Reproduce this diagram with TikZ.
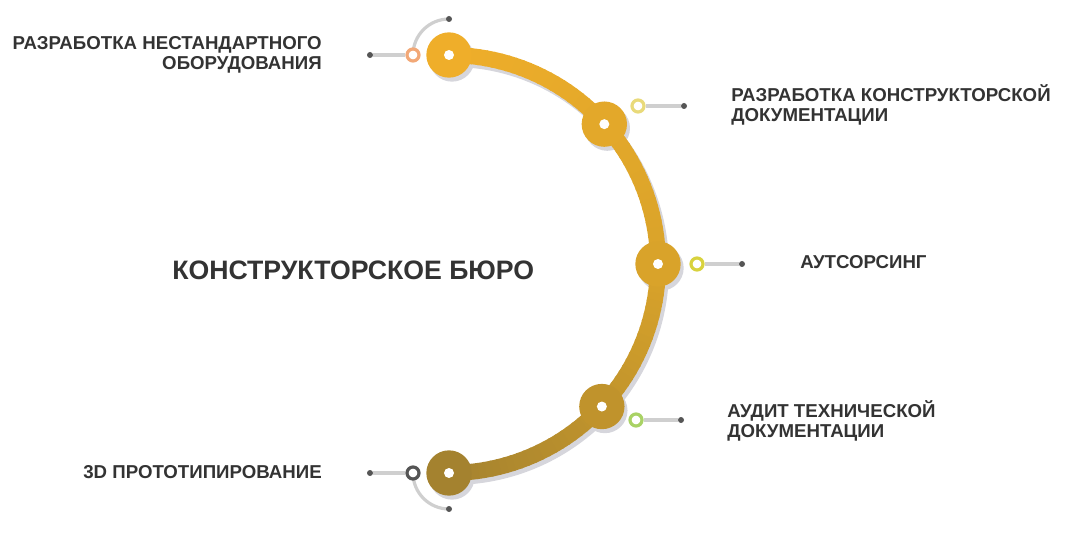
\documentclass[tikz,border=0pt]{standalone}
\usepackage{fontspec}
\setmainfont{Liberation Sans}
\usetikzlibrary{positioning,backgrounds}
\definecolor{KTop}{HTML}{EFAE2A}
\definecolor{KMid}{HTML}{D9A32A}
\definecolor{KBot}{HTML}{A4822F}
\definecolor{KText}{HTML}{333333}
\definecolor{KLine}{HTML}{CFCFCF}
\definecolor{KDot}{HTML}{555555}
\definecolor{KShade}{HTML}{D6D6DC}
\definecolor{RA}{HTML}{F2A877}
\definecolor{RB}{HTML}{E9DA7A}
\definecolor{RC}{HTML}{D8D23E}
\definecolor{RD}{HTML}{A9D265}
\definecolor{RE}{HTML}{555555}

\begin{document}
\begin{tikzpicture}[
  x=0.75pt,y=0.75pt,
  big/.style={circle,minimum size=34pt,inner sep=0pt},
  hole/.style={circle,fill=white,minimum size=7.5pt,inner sep=0pt},
  ring/.style={circle,draw=#1,line width=2.4pt,fill=white,minimum size=9pt,inner sep=0pt},
  tip/.style={circle,fill=KDot,minimum size=4.5pt,inner sep=0pt},
  lead/.style={KLine,line width=2.4pt},
  lbl/.style={text=KText,font=\fontsize{14}{15}\selectfont\bfseries,inner sep=0pt}
]
  \useasboundingbox (0,0) rectangle (1069,553);
  \coordinate (C) at (449,289);
  \coordinate (S) at (452,285);
  \draw[KShade,line width=12pt] (S) ++(90:156.75pt)
    arc[start angle=90,end angle=-90,radius=156.75pt];
  \foreach \a in {90,42,0,-43,-90}
    {\fill[KShade] (S) ++(\a:156.75pt) circle[radius=17pt];}
  \foreach \a in {90,88,...,2}{
    \pgfmathtruncatemacro\p{\a/90*100}
    \colorlet{segc}{KTop!\p!KMid}
    \draw[segc,line width=12pt] (C) ++(\a:156.75pt)
      arc[start angle=\a,end angle=\a-2.5,radius=156.75pt];}
  \foreach \a in {0,-2,...,-88}{
    \pgfmathtruncatemacro\p{-\a/90*100}
    \colorlet{segc}{KBot!\p!KMid}
    \draw[segc,line width=12pt] (C) ++(\a:156.75pt)
      arc[start angle=\a,end angle=\a-2.5,radius=156.75pt];}
  \foreach \a/\c/\nm in {90/KTop/n1,42/{KTop!47!KMid}/n2,0/KMid/n3,-43/{KBot!48!KMid}/n4,-90/KBot/n5}{
    \path (C) ++(\a:156.75pt) node[big,fill=\c] (\nm) {};
    \node[hole] (\nm h) at (\nm) {};}
  \node[ring=RA] (r1) at (413,498) {};
  \node[ring=RB] (r2) at (638,447) {};
  \node[ring=RC] (r3) at (697,289) {};
  \node[ring=RD] (r4) at (636,133) {};
  \node[ring=RE] (r5) at (413,80) {};
  \node[tip] (d1) at (370,498) {};
  \node[tip] (d2) at (684,447) {};
  \node[tip] (d3) at (742,289) {};
  \node[tip] (d4) at (681,133) {};
  \node[tip] (d5) at (370,80) {};
  \node[tip] (e1) at (449,534) {};
  \node[tip] (e5) at (449,44) {};
  \begin{scope}[on background layer]
    \foreach \x/\y in {d1/r1,d2/r2,d3/r3,d4/r4,d5/r5}
      {\draw[lead] (\x) -- (\y);}
    \draw[lead] (r1.center) arc[start angle=180,end angle=90,radius=27pt];
    \draw[lead] (r5.center) arc[start angle=180,end angle=270,radius=27pt];
  \end{scope}
  \node[lbl,anchor=east,align=right] (t1) at (322,498) {РАЗРАБОТКА НЕСТАНДАРТНОГО\\ОБОРУДОВАНИЯ};
  \node[lbl,anchor=west,align=left] (t2) at (731,448) {РАЗРАБОТКА КОНСТРУКТОРСКОЙ\\ДОКУМЕНТАЦИИ};
  \node[lbl,anchor=west] (t3) at (800,291) {АУТСОРСИНГ};
  \node[lbl,anchor=west,align=left] (t4) at (727,132) {АУДИТ ТЕХНИЧЕСКОЙ\\ДОКУМЕНТАЦИИ};
  \node[lbl,anchor=east] (t5) at (322,81) {3D ПРОТОТИПИРОВАНИЕ};
  \node[lbl,anchor=west,font=\fontsize{20}{24}\selectfont\bfseries] (title) at (172,283) {КОНСТРУКТОРСКОЕ БЮРО};
\end{tikzpicture}
\end{document}
